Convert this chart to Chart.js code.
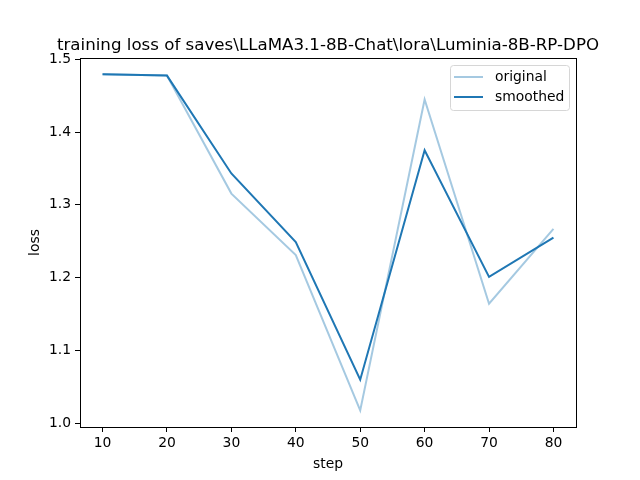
<!DOCTYPE html>
<html>
<head>
<meta charset="utf-8">
<script src="https://cdn.jsdelivr.net/npm/chart.js@4.4.0/dist/chart.umd.min.js"></script>
<style>
    body { margin: 0; background: #fff; }
    #wrap { width: 640px; height: 480px; }
</style>
</head>
<body>
<div id="wrap"><canvas id="myChart" width="640" height="480"></canvas></div>
<script>
// data
const steps = [10, 20, 30, 40, 50, 60, 70, 80];
const original = [1.4795, 1.4778, 1.3155, 1.2310, 1.0174, 1.4450, 1.1640, 1.2670];
const smoothed = [1.4795, 1.4778, 1.3432, 1.2490, 1.0595, 1.3752, 1.2010, 1.2550];
const xTicks = [10, 20, 30, 40, 50, 60, 70, 80];
const yTicks = [1.0, 1.1, 1.2, 1.3, 1.4, 1.5];

const chartTitle = 'training loss of saves\\LLaMA3.1-8B-Chat\\lora\\Luminia-8B-RP-DPO';
const font = 'DejaVu Sans';

// title, frame and legend drawn the matplotlib way
const mplExtras = {
    id: 'mplExtras',
    afterDraw(chart) {
        const ctx = chart.ctx;
        const area = chart.chartArea;
        ctx.save();

        // frame
        ctx.strokeStyle = '#000';
        ctx.lineWidth = 1;
        ctx.strokeRect(Math.round(area.left) + 0.5, Math.round(area.top) + 0.5,
            Math.round(area.right - area.left), Math.round(area.bottom - area.top));

        // title
        ctx.fillStyle = '#000';
        ctx.font = '16.67px "' + font + '"';
        ctx.textAlign = 'center';
        ctx.textBaseline = 'alphabetic';
        ctx.fillText(chartTitle, (area.left + area.right) / 2, 50);

        // legend
        const bx = 450, by = 65, bw = 119, bh = 45;
        ctx.beginPath();
        ctx.roundRect(bx + 0.5, by + 0.5, bw, bh, 3);
        ctx.fillStyle = 'rgba(255,255,255,0.8)';
        ctx.fill();
        ctx.strokeStyle = '#d6d6d6';
        ctx.stroke();

        ctx.font = '13.89px "' + font + '"';
        ctx.textAlign = 'left';
        ctx.textBaseline = 'middle';
        chart.data.datasets.forEach((ds, i) => {
            const y = 77 + i * 20;
            ctx.beginPath();
            ctx.moveTo(454, y);
            ctx.lineTo(483, y);
            ctx.strokeStyle = ds.borderColor;
            ctx.lineWidth = 2;
            ctx.stroke();
            ctx.fillStyle = '#000';
            ctx.fillText(ds.label, 495, y);
        });
        ctx.restore();
    }
};

var ctx = document.getElementById('myChart').getContext('2d');

var myChart = new Chart(ctx, {
    type: 'line',
    data: {
        datasets: [{
            label: 'original',
            data: steps.map((s, i) => ({ x: s, y: original[i] })),
            borderColor: 'rgba(31, 119, 180, 0.4)',
            borderWidth: 2,
            pointRadius: 0,
            tension: 0,
            fill: false
        }, {
            label: 'smoothed',
            data: steps.map((s, i) => ({ x: s, y: smoothed[i] })),
            borderColor: '#1f77b4',
            borderWidth: 2,
            pointRadius: 0,
            tension: 0,
            fill: false
        }]
    },
    options: {
        responsive: false,
        animation: false,
        layout: { padding: { top: 58, right: 64, left: 0, bottom: 0 } },
        scales: {
            x: {
                type: 'linear',
                min: 6.5,
                max: 83.5,
                afterBuildTicks: (scale) => { scale.ticks = xTicks.map(v => ({ value: v })); },
                afterFit: (scale) => { scale.height = 53; },
                grid: { drawOnChartArea: false, tickLength: 5, color: '#000' },
                border: { display: false },
                ticks: { color: '#000', padding: 3, maxRotation: 0, font: { family: font, size: 13.89 } },
                title: { display: true, text: 'step', color: '#000', font: { family: font, size: 13.89 }, padding: { bottom: 7 } }
            },
            y: {
                type: 'linear',
                min: 0.9945,
                max: 1.502,
                afterBuildTicks: (scale) => { scale.ticks = yTicks.map(v => ({ value: v })); },
                afterFit: (scale) => { scale.width = 80; },
                grid: { drawOnChartArea: false, tickLength: 5, color: '#000' },
                border: { display: false },
                ticks: { color: '#000', padding: 4, font: { family: font, size: 13.89 }, callback: (v) => v.toFixed(1) },
                title: { display: true, text: 'loss', color: '#000', font: { family: font, size: 13.89 }, padding: { top: 27 } }
            }
        },
        plugins: {
            legend: { display: false },
            title: { display: false },
            tooltip: { enabled: false }
        }
    },
    plugins: [mplExtras]
});
</script>
</body>
</html>
